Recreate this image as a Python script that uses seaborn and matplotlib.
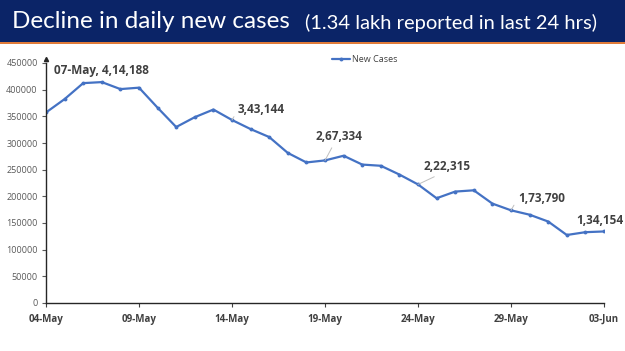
import numpy as np
import pandas as pd
import matplotlib
matplotlib.use("Agg")
import matplotlib.pyplot as plt
import matplotlib.dates as mdates
import seaborn as sns
from matplotlib.patches import Rectangle

# data
dates = pd.date_range("2021-05-04", "2021-06-03", freq="D")
new_cases = [357229, 382315, 412262, 414188, 401078, 403738, 366161, 329942,
             348421, 362727, 343144, 326098, 311170, 281386, 263533, 267334,
             276110, 259551, 257299, 240842, 222315, 196427, 208921, 211298,
             186364, 173790, 165553, 152734, 127510, 132788, 134154]
y_ticks = list(range(0, 450001, 50000))
# (index, label, text-centre offset in points, horizontal align, show leader)
callouts = [
    (3, "07-May, 4,14,188", (0, 8.6), "center", False),
    (10, "3,43,144", (4.3, 7.2), "left", True),
    (15, "2,67,334", (10, 17), "center", True),
    (20, "2,22,315", (21, 13), "center", True),
    (25, "1,73,790", (5, 8.6), "left", True),
    (30, "1,34,154", (-3, 8), "center", False),
]

df = pd.DataFrame({"Date": dates, "New Cases": new_cases})

sns.set_style("white")
plt.rcParams["font.family"] = ["Open Sans", "DejaVu Sans"]

fig = plt.figure(figsize=(6.25, 3.51), dpi=100)
W, H = 625, 351

# title banner
fig.patches.append(Rectangle((0, 1 - 42 / H), 1, 42 / H, transform=fig.transFigure,
                             facecolor="#0b2467", edgecolor="none", zorder=0))
fig.patches.append(Rectangle((0, 1 - 44 / H), 1, 2 / H, transform=fig.transFigure,
                             facecolor="#e07b39", edgecolor="none", zorder=0))
fig.text(12 / W, 1 - 22 / H, "Decline in daily new cases", color="white",
         fontsize=17.5, va="center", ha="left", family=["Lato", "DejaVu Sans"])
fig.text(305 / W, 1 - 23 / H, "(1.34 lakh reported in last 24 hrs)", color="white",
         fontsize=14.5, va="center", ha="left", family=["Lato", "DejaVu Sans"])

ax = fig.add_axes([46 / W, 48 / H, 558 / W, 240 / H])
sns.lineplot(data=df, x="Date", y="New Cases", ax=ax, color="#4472c4", lw=1.6,
             marker="o", markersize=2.8, markeredgewidth=0, label="New Cases")

ax.set_xlim(dates[0], dates[-1])
ax.set_ylim(0, 450000)
ax.set_yticks(y_ticks)
ax.set_xticks(dates[::5])
ax.xaxis.set_major_formatter(mdates.DateFormatter("%d-%b"))
ax.set_xlabel("")
ax.set_ylabel("")
ax.tick_params(axis="x", labelsize=7, colors="#404040", length=3, width=0.8,
               direction="out", bottom=True, pad=5)
ax.tick_params(axis="y", labelsize=6.5, colors="#595959", length=3, width=0.8,
               direction="out", left=True, pad=3)
for lbl in ax.get_xticklabels():
    lbl.set_fontweight("bold")
for s in ["top", "right"]:
    ax.spines[s].set_visible(False)
for s in ["left", "bottom"]:
    ax.spines[s].set_color("#262626")
    ax.spines[s].set_linewidth(1)
ax.plot(0, 1.015, marker="^", color="#262626", markersize=3,
        transform=ax.transAxes, clip_on=False)

for i, text, off, ha, leader in callouts:
    props = None
    if leader:
        props = dict(arrowstyle="-", color="#bfbfbf", lw=0.7, shrinkA=1, shrinkB=0,
                     relpos=(0, 0.5) if ha == "left" else (0.4, 0))
    ax.annotate(text, xy=(dates[i], new_cases[i]), xytext=off,
                textcoords="offset points", fontsize=8.5, fontweight="bold",
                color="#404040", ha=ha, va="center", arrowprops=props)

leg = ax.legend(loc="center", bbox_to_anchor=(365 / W, 1 - 60 / H),
                bbox_transform=fig.transFigure, frameon=False, fontsize=6.5,
                handlelength=2.0, handletextpad=0.2)
for t in leg.get_texts():
    t.set_color("#404040")

fig.savefig("out.png", dpi=100)
